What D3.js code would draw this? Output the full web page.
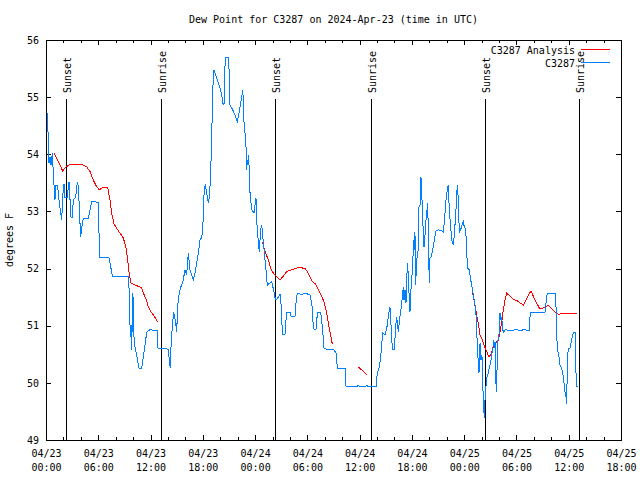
<!DOCTYPE html>
<html><head><meta charset="utf-8">
<script src="https://cdn.jsdelivr.net/npm/d3@7"></script>
<style>
html,body{margin:0;padding:0;background:#fff;}
svg text{font-family:"DejaVu Sans Mono",monospace;font-size:10px;fill:#000;}
</style></head>
<body>
<svg id="chart" width="640" height="480"></svg>
<script>
// Hours since 2024-04-23 00:00 UTC
const obsHours = [0.17,0.26,0.34,0.46,0.57,0.72,0.84,0.95,1.03,1.15,
1.34,1.41,1.53,1.69,1.80,1.99,2.07,2.18,2.45,2.56,
2.64,2.76,2.87,3.02,3.13,3.41,3.52,3.64,3.75,3.90,
3.98,4.10,4.28,4.86,5.05,5.25,5.62,6.00,6.08,6.12,
7.23,7.43,7.61,9.45,9.53,9.61,9.68,9.76,9.84,9.95,
10.02,10.10,10.25,10.41,10.56,10.67,10.98,11.17,11.40,11.56,
11.94,12.78,12.82,14.04,14.15,14.27,14.38,14.54,14.66,14.77,
14.89,15.00,15.12,15.23,15.38,15.55,15.76,15.95,16.15,16.33,
16.53,16.72,16.91,17.10,17.30,17.48,17.68,17.87,17.99,18.06,
18.17,18.29,18.45,18.63,18.74,18.82,18.90,19.02,19.13,19.25,
19.40,19.59,19.78,19.97,20.17,20.28,20.43,20.49,20.58,20.92,
21.01,21.04,21.12,21.43,21.69,21.96,22.07,22.27,22.46,22.58,
22.65,22.76,22.84,22.96,23.04,23.11,23.19,23.27,23.34,23.42,
23.61,23.88,24.10,24.18,24.37,24.48,24.64,24.76,24.94,25.14,
25.25,25.40,25.71,25.91,26.17,26.29,26.40,26.66,26.86,26.97,
27.05,27.17,27.43,27.55,27.63,28.01,28.12,28.58,28.70,28.84,
29.07,29.35,29.73,30.30,30.53,30.61,30.76,30.99,31.07,31.19,
31.53,31.64,31.76,31.91,32.22,32.98,33.29,33.44,34.32,34.44,
35.66,35.85,36.04,36.61,36.81,36.96,37.88,38.03,38.26,38.42,
38.53,38.65,38.91,39.18,39.29,39.40,39.48,39.56,39.68,39.79,
40.02,40.09,40.25,40.37,40.48,40.55,40.71,40.86,41.01,41.09,
41.21,41.32,41.40,41.47,41.59,41.70,41.78,41.89,42.01,42.12,
42.20,42.27,42.35,42.43,42.55,42.73,42.81,42.93,43.04,43.12,
43.24,43.39,43.47,43.58,43.70,43.81,43.88,43.99,44.08,44.19,
44.39,44.57,44.76,45.03,45.42,45.60,45.72,45.91,46.06,46.18,
46.29,46.45,46.57,46.75,46.87,47.06,47.21,47.33,47.44,47.60,
47.75,47.90,48.01,48.17,48.29,48.36,48.59,48.75,48.90,49.05,
49.24,49.36,49.44,49.51,49.62,49.70,49.82,49.93,50.04,50.19,
50.31,50.39,50.50,50.62,50.77,50.88,51.04,51.16,51.27,51.39,
51.46,51.54,51.62,51.69,51.77,51.85,51.92,52.03,52.11,52.19,
52.31,52.42,52.54,52.72,53.07,53.64,53.83,54.60,54.79,55.47,
55.55,55.67,57.28,57.39,57.54,58.43,58.54,58.62,58.73,58.88,
59.00,59.19,59.31,59.46,59.57,59.69,59.77,59.84,59.95,60.15,
60.34,60.53,60.72,60.80,60.87,61.10];
const obsValues = [54.72,54.25,53.85,53.95,53.81,54.02,53.67,53.38,53.20,53.46,
53.46,53.29,53.15,52.97,52.85,53.43,53.48,53.24,53.24,53.43,
53.52,53.20,52.90,52.89,53.20,53.25,53.43,53.52,53.32,52.80,
52.55,52.71,52.87,52.87,53.03,53.17,53.17,53.15,52.68,52.19,
52.19,52.03,51.87,51.87,51.66,51.22,50.80,51.01,50.58,51.57,
51.45,50.80,50.58,50.49,50.35,50.26,50.26,50.45,50.70,50.89,
50.93,50.91,50.61,50.59,50.40,50.26,50.75,51.05,51.24,51.14,
51.05,50.89,51.36,51.50,51.63,51.71,51.80,51.98,51.89,52.27,
51.98,51.89,51.80,51.92,52.10,52.27,52.50,52.54,52.68,52.97,
53.43,53.46,53.32,53.15,53.25,53.43,53.67,54.29,55.07,55.48,
55.42,55.34,55.25,55.16,55.04,54.90,54.86,55.30,55.69,55.69,
55.48,55.25,54.86,54.78,54.69,54.57,54.65,54.83,55.00,55.13,
54.92,54.43,54.37,54.13,53.73,53.90,53.81,53.99,53.60,53.32,
53.03,52.97,53.24,52.85,52.47,52.29,52.68,52.76,52.47,52.15,
51.98,51.71,51.75,51.77,51.59,51.49,51.45,51.50,51.56,51.40,
51.10,50.84,50.84,51.10,51.24,51.24,51.17,51.17,51.40,51.57,
51.56,51.54,51.57,51.54,51.36,51.10,50.94,50.94,51.10,51.24,
51.24,51.10,50.92,50.61,50.59,50.59,50.52,50.26,50.26,49.93,
49.93,49.96,49.93,49.93,49.96,49.93,49.93,50.17,50.28,50.45,
50.66,50.87,50.84,51.01,51.15,51.27,51.33,51.15,50.75,50.58,
50.58,50.93,51.15,50.98,50.89,51.10,51.24,51.45,51.68,51.45,
51.63,51.40,51.68,52.10,51.89,51.45,51.24,51.63,51.89,52.19,
52.50,52.33,52.64,51.71,52.15,52.33,53.08,53.11,53.60,53.38,
52.85,52.38,52.50,52.80,52.97,53.15,52.68,51.75,52.20,52.20,
52.33,52.50,52.66,52.68,52.66,52.64,52.82,53.20,53.38,53.46,
53.03,52.73,52.50,52.41,52.59,53.03,53.46,53.20,52.62,52.68,
52.76,52.82,52.73,52.68,52.38,52.01,51.98,51.80,51.68,51.54,
51.36,51.19,50.93,50.63,50.35,50.17,50.70,50.40,50.49,49.70,
49.39,49.70,49.93,50.10,50.17,50.26,50.35,50.49,50.58,50.75,
50.61,50.71,50.10,49.84,50.23,50.70,50.79,50.89,51.22,51.10,
51.15,50.93,50.89,50.94,50.91,50.91,50.94,50.91,50.94,50.91,
51.14,51.24,51.24,51.40,51.57,51.56,51.33,50.80,50.58,50.45,
50.31,50.26,50.17,49.99,49.84,49.75,49.63,50.37,50.61,50.61,
50.75,50.89,50.89,50.44,49.93,49.93];

const anaHours = [0.92,1.41,1.92,2.18,2.75,3.90,4.28,4.67,5.05,5.43,
5.82,6.12,6.58,7.08,7.35,7.54,7.81,8.18,8.49,8.87,
9.18,9.33,9.53,9.72,10.21,10.79,10.98,11.17,11.48,11.74,
12.05,12.32,12.62,12.78, null,
24.83,25.14,25.52,25.79,26.09,26.48,26.86,27.24,27.63,28.20,
28.78,29.15,29.73,29.99,30.30,30.57,30.88,31.26,31.64,31.91,
32.22,32.48,32.71,32.86, null,
35.85,36.84, null,
48.98,49.13,49.36,49.62,49.82,50.01,50.28,50.58,50.85,51.16,
51.34,51.65,51.92,52.11,52.31,52.49,52.69,52.88,53.26,53.64,
54.03,54.41,54.79,55.18,55.67,56.13,56.70,57.28,57.65,58.04,
58.50,58.80,59.19,60.91];
const anaValues = [54.02,53.87,53.71,53.76,53.83,53.83,53.81,53.78,53.70,53.55,
53.43,53.38,53.42,53.42,53.20,52.97,52.78,52.69,52.62,52.54,
52.36,52.20,51.94,51.75,51.71,51.68,51.66,51.57,51.47,51.33,
51.24,51.19,51.12,51.07, null,
52.47,52.30,52.15,52.01,51.92,51.86,51.80,51.87,51.95,51.98,
52.01,52.02,52.00,51.95,51.86,51.77,51.74,51.63,51.51,51.42,
51.22,50.98,50.81,50.68, null,
50.28,50.14, null,
51.57,51.45,51.25,51.04,50.84,50.78,50.66,50.55,50.45,50.53,
50.62,50.70,50.75,50.88,51.07,51.28,51.45,51.57,51.52,51.46,
51.44,51.40,51.36,51.48,51.61,51.45,51.29,51.32,51.36,51.30,
51.23,51.20,51.21,51.22];

const sunHours = [2.35, 13.25, 26.32, 37.25, 50.40, 61.21];
const sunLabels = ["Sunset","Sunrise","Sunset","Sunrise","Sunset","Sunrise"];

const yTicks = [49,50,51,52,53,54,55,56];
const xMajorHours = [0,6,12,18,24,30,36,42,48,54,60,66];
const xMinorHours = d3.range(0, 67, 2);
const seriesNames = ["C3287 Analysis","C3287"];
const seriesColors = ["#ff0000","#0080ff"];
const titleText = "Dew Point for C3287 on 2024-Apr-23 (time in UTC)";
const yLabel = "degrees F";

const t0 = Date.UTC(2024,3,23,0,0);
const toDate = h => new Date(t0 + h*3600000);

const L=46, R=621, T=40, B=440;
const svg = d3.select("#chart");
const x = d3.scaleUtc().domain([toDate(0), toDate(66)]).range([L,R]);
const y = d3.scaleLinear().domain([49,56]).range([B,T]);

// Title
svg.append("text").attr("x",(L+R)/2).attr("y",23).attr("text-anchor","middle").text(titleText);
// Y label
svg.append("text").attr("transform",`translate(13,${(T+B)/2}) rotate(-90)`)
  .attr("text-anchor","middle").text(yLabel);

const fmt1 = d3.utcFormat("%m/%d"), fmt2 = d3.utcFormat("%H:%M");

// Bottom major axis
const gB = svg.append("g").attr("transform",`translate(0,${B})`)
  .call(d3.axisBottom(x).tickValues(xMajorHours.map(toDate)).tickSizeInner(-5).tickSizeOuter(0).tickFormat(""));
gB.selectAll(".tick text").remove();
gB.selectAll(".tick").append("text").attr("text-anchor","middle").each(function(d){
  const t=d3.select(this);
  t.append("tspan").attr("x",0).attr("y",17).text(fmt1(d));
  t.append("tspan").attr("x",0).attr("y",31).text(fmt2(d));
});
// Bottom minor ticks
svg.append("g").attr("transform",`translate(0,${B})`)
  .call(d3.axisBottom(x).tickValues(xMinorHours.filter(h=>h%6!==0).map(toDate)).tickSizeInner(-3).tickSizeOuter(0).tickFormat(""));
// Top ticks
svg.append("g").attr("transform",`translate(0,${T})`)
  .call(d3.axisTop(x).tickValues(xMajorHours.map(toDate)).tickSizeInner(-5).tickSizeOuter(0).tickFormat(""));
svg.append("g").attr("transform",`translate(0,${T})`)
  .call(d3.axisTop(x).tickValues(xMinorHours.filter(h=>h%6!==0).map(toDate)).tickSizeInner(-3).tickSizeOuter(0).tickFormat(""));
// Left axis
svg.append("g").attr("transform",`translate(${L},0)`)
  .call(d3.axisLeft(y).tickValues(yTicks).tickSizeInner(-5).tickSizeOuter(0).tickPadding(7).tickFormat(d3.format("d")));
// Right ticks
svg.append("g").attr("transform",`translate(${R},0)`)
  .call(d3.axisRight(y).tickValues(yTicks).tickSizeInner(-5).tickSizeOuter(0).tickFormat(""));

svg.selectAll(".domain").remove();
svg.selectAll(".tick line").attr("stroke","#000").attr("shape-rendering","crispEdges");
svg.selectAll(".tick text").attr("font-family","DejaVu Sans Mono").attr("font-size",10).attr("fill","#000");

// Frame
svg.append("rect").attr("x",L+0.5).attr("y",T+0.5).attr("width",R-L).attr("height",B-T)
  .attr("fill","none").attr("stroke","#000").attr("shape-rendering","crispEdges");

// Sunrise / sunset
sunHours.forEach((h,i)=>{
  const sx = Math.round(x(toDate(h)))+0.5;
  svg.append("line").attr("x1",sx).attr("x2",sx).attr("y1",99).attr("y2",B)
    .attr("stroke","#000").attr("shape-rendering","crispEdges");
  svg.append("text").attr("transform",`translate(${sx+4},93) rotate(-90)`)
    .attr("text-anchor","start").text(sunLabels[i]);
});

// Data lines
const anaData = anaHours.map((h,i)=>({h, v: anaValues[i]}));
const obsData = obsHours.map((h,i)=>({h, v: obsValues[i]}));
const line = d3.line().defined(d=>d.h!=null && d.v!=null).x(d=>x(toDate(d.h))).y(d=>y(d.v));
svg.append("path").datum(anaData).attr("d",line).attr("fill","none").attr("stroke",seriesColors[0])
  .attr("stroke-width",1).attr("shape-rendering","crispEdges");
svg.append("path").datum(obsData).attr("d",line).attr("fill","none").attr("stroke",seriesColors[1])
  .attr("stroke-width",1).attr("shape-rendering","crispEdges");

// Legend
seriesNames.forEach((n,i)=>{
  const ly = 49.5 + i*13;
  svg.append("text").attr("x",575).attr("y",ly+4).attr("text-anchor","end").text(n);
  svg.append("line").attr("x1",581).attr("x2",610).attr("y1",ly).attr("y2",ly)
    .attr("stroke",seriesColors[i]).attr("stroke-width",1).attr("shape-rendering","crispEdges");
});
</script>
</body></html>
